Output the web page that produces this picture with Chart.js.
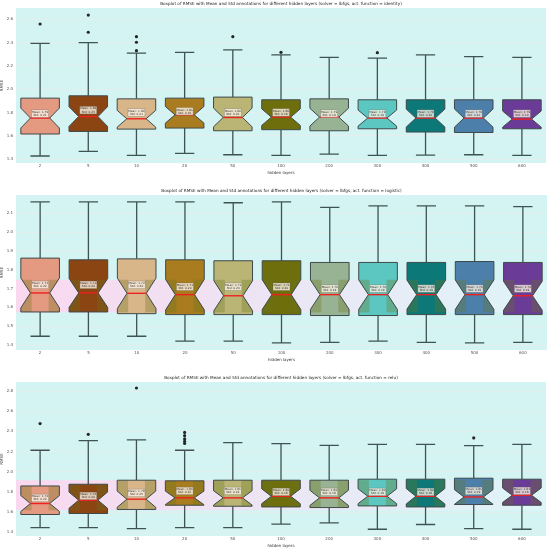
<!DOCTYPE html>
<html>
<head>
<meta charset="utf-8">
<script src="https://cdn.jsdelivr.net/npm/chart.js@4.4.0/dist/chart.umd.min.js"></script>
<style>
  body { margin: 0; background: #ffffff; }
  .panel { position: absolute; left: 0; width: 550px; }
</style>
</head>
<body>
<div class="panel" style="top:0px;height:177px"><canvas id="identityChart"></canvas></div>
<div class="panel" style="top:187px;height:177px"><canvas id="logisticChart"></canvas></div>
<div class="panel" style="top:374px;height:176px"><canvas id="reluChart"></canvas></div>
<script>
const hiddenLayers = ['2', '5', '10', '20', '50', '100', '200', '300', '400', '500', '600'];

// identity
const identityLow  = [1.426, 1.466, 1.431, 1.448, 1.437, 1.431, 1.443, 1.431, 1.434, 1.437, 1.431];
const identityQ1   = [1.615, 1.637, 1.657, 1.666, 1.643, 1.652, 1.643, 1.660, 1.632, 1.628, 1.660];
const identityMed  = [1.752, 1.765, 1.746, 1.780, 1.757, 1.760, 1.760, 1.752, 1.752, 1.752, 1.743];
const identityQ3   = [1.923, 1.943, 1.917, 1.923, 1.932, 1.909, 1.917, 1.909, 1.909, 1.909, 1.909];
const identityHigh = [2.394, 2.400, 2.309, 2.317, 2.337, 2.294, 2.274, 2.266, 2.294, 2.280, 2.274];
const identityMean = [1.79, 1.82, 1.80, 1.81, 1.80, 1.80, 1.79, 1.79, 1.79, 1.79, 1.79];
const identityStd  = [0.21, 0.23, 0.21, 0.19, 0.20, 0.19, 0.19, 0.19, 0.20, 0.20, 0.19];
const identityOutliers = [[2.56], [2.637, 2.489], [2.451, 2.403, 2.331], [], [2.451], [2.317], [], [2.314], [], [], []];
const identityTicks = [1.4, 1.6, 1.8, 2.0, 2.2, 2.4, 2.6];

// logistic
const logisticLow  = [1.447, 1.447, 1.447, 1.421, 1.421, 1.412, 1.415, 1.421, 1.415, 1.412, 1.415];
const logisticQ1   = [1.576, 1.576, 1.567, 1.562, 1.562, 1.562, 1.557, 1.557, 1.562, 1.562, 1.562];
const logisticMed  = [1.677, 1.677, 1.675, 1.668, 1.662, 1.668, 1.668, 1.668, 1.668, 1.668, 1.662];
const logisticQ3   = [1.862, 1.853, 1.858, 1.853, 1.848, 1.848, 1.839, 1.839, 1.839, 1.844, 1.839];
const logisticHigh = [2.161, 2.161, 2.161, 2.161, 2.156, 2.161, 2.132, 2.139, 2.139, 2.139, 2.136];
const logisticMean = [1.72, 1.72, 1.72, 1.71, 1.71, 1.71, 1.70, 1.70, 1.70, 1.70, 1.70];
const logisticStd  = [0.20, 0.20, 0.20, 0.20, 0.20, 0.20, 0.19, 0.19, 0.19, 0.19, 0.19];
const logisticOutliers = [[], [], [], [], [], [], [], [], [], [], []];
const logisticTicks = [1.4, 1.5, 1.6, 1.7, 1.8, 1.9, 2.0, 2.1];
const logisticBand = [1.574, 1.747];

// relu
const reluLow  = [1.447, 1.447, 1.437, 1.447, 1.447, 1.480, 1.493, 1.430, 1.477, 1.437, 1.430];
const reluQ1   = [1.576, 1.586, 1.626, 1.668, 1.658, 1.651, 1.645, 1.661, 1.651, 1.675, 1.668];
const reluMed  = [1.685, 1.718, 1.728, 1.741, 1.741, 1.757, 1.741, 1.757, 1.757, 1.750, 1.767];
const reluQ3   = [1.859, 1.876, 1.916, 1.910, 1.916, 1.916, 1.916, 1.926, 1.926, 1.936, 1.926];
const reluHigh = [2.213, 2.309, 2.315, 2.213, 2.289, 2.279, 2.262, 2.272, 2.272, 2.259, 2.272];
const reluMean = [1.74, 1.76, 1.79, 1.81, 1.81, 1.80, 1.80, 1.80, 1.80, 1.81, 1.81];
const reluStd  = [0.20, 0.20, 0.25, 0.22, 0.19, 0.18, 0.18, 0.19, 0.18, 0.19, 0.18];
const reluOutliers = [[2.477], [2.371], [2.83], [2.39, 2.357, 2.325, 2.30, 2.28], [], [], [], [], [], [2.335], []];
const reluTicks = [1.4, 1.6, 1.8, 2.0, 2.2, 2.4, 2.6, 2.8];
const reluBand = [1.618, 1.916];

const boxColors = ['#e39a80', '#8b4513', '#d9b68a', '#a97c1f', '#bab574', '#6e6e0c',
                   '#98b393', '#5cc6c1', '#0d7878', '#4d7fab', '#6a3b97'];
const N_RUNS = 32; // used for notch size

const boxPlugin = {
    id: 'boxes',
    beforeDraw(chart) {
        const a = chart.chartArea;
        chart.ctx.save();
        chart.ctx.fillStyle = '#d4f4f4';
        chart.ctx.fillRect(a.left, a.top, a.right - a.left, a.bottom - a.top);
        chart.ctx.restore();
    },
    beforeDatasetsDraw(chart) {
        const s = chart.options.plugins.boxes;
        const ctx = chart.ctx;
        const x = chart.scales.x, y = chart.scales.y;
        const a = chart.chartArea;
        const step = x.getPixelForValue(1) - x.getPixelForValue(0);
        const w = step * 0.8;
        ctx.save();

        // shaded band
        if (s.band) {
            const grad = ctx.createLinearGradient(a.left, 0, a.right, 0);
            grad.addColorStop(0, '#fad8ef');
            grad.addColorStop(0.5, '#ece6f4');
            grad.addColorStop(1, '#def5f8');
            const bt = y.getPixelForValue(s.band[1]), bb = y.getPixelForValue(s.band[0]);
            ctx.fillStyle = grad;
            ctx.fillRect(a.left, bt, a.right - a.left, bb - bt);
        }

        for (let i = 0; i < s.med.length; i++) {
            const cx = x.getPixelForValue(i);
            const L = cx - w / 2, R = cx + w / 2;
            const yq1 = y.getPixelForValue(s.q1[i]), yq3 = y.getPixelForValue(s.q3[i]);
            const ym = y.getPixelForValue(s.med[i]);
            const half = 1.57 * (s.q3[i] - s.q1[i]) / Math.sqrt(N_RUNS);
            const yn1 = y.getPixelForValue(s.med[i] - half), yn2 = y.getPixelForValue(s.med[i] + half);
            const ylo = y.getPixelForValue(s.low[i]), yhi = y.getPixelForValue(s.high[i]);

            // whiskers and caps
            ctx.strokeStyle = '#3e5353';
            ctx.lineWidth = 1.3;
            ctx.beginPath();
            ctx.moveTo(cx, yq1); ctx.lineTo(cx, ylo);
            ctx.moveTo(cx, yq3); ctx.lineTo(cx, yhi);
            ctx.moveTo(cx - w / 4, ylo); ctx.lineTo(cx + w / 4, ylo);
            ctx.moveTo(cx - w / 4, yhi); ctx.lineTo(cx + w / 4, yhi);
            ctx.stroke();

            // notched box
            const path = new Path2D();
            path.moveTo(L, yq1); path.lineTo(R, yq1); path.lineTo(R, yn1);
            path.lineTo(cx + w / 4, ym); path.lineTo(R, yn2); path.lineTo(R, yq3);
            path.lineTo(L, yq3); path.lineTo(L, yn2); path.lineTo(cx - w / 4, ym);
            path.lineTo(L, yn1); path.closePath();
            ctx.fillStyle = boxColors[i];
            ctx.fill(path);

            if (s.band) {
                ctx.save();
                ctx.clip(path);
                const bt = y.getPixelForValue(s.band[1]), bb = y.getPixelForValue(s.band[0]);
                ctx.fillStyle = 'rgba(105,118,30,0.32)';
                ctx.fillRect(L, bt, w * 0.28, bb - bt);
                ctx.fillRect(R - w * 0.28, bt, w * 0.28, bb - bt);
                ctx.restore();
            }

            ctx.strokeStyle = '#3e4a4a';
            ctx.lineWidth = 1;
            ctx.stroke(path);

            // median
            ctx.strokeStyle = '#ee2020';
            ctx.lineWidth = 1.4;
            ctx.beginPath();
            ctx.moveTo(cx - w / 4, ym); ctx.lineTo(cx + w / 4, ym);
            ctx.stroke();

            // mean / std annotation
            const ymean = y.getPixelForValue(s.mean[i]);
            ctx.fillStyle = 'rgba(250,240,226,0.8)';
            ctx.strokeStyle = 'rgba(80,80,80,0.5)';
            ctx.lineWidth = 0.5;
            ctx.fillRect(cx - 8.5, ymean - 3.8, 17, 7.6);
            ctx.strokeRect(cx - 8.5, ymean - 3.8, 17, 7.6);
            ctx.fillStyle = '#333';
            ctx.font = '2.9px "DejaVu Sans"';
            ctx.textAlign = 'center';
            ctx.textBaseline = 'middle';
            ctx.fillText('Mean: ' + s.mean[i].toFixed(2), cx, ymean - 1.5);
            ctx.fillText('Std: ' + s.std[i].toFixed(2), cx, ymean + 1.7);
        }
        ctx.restore();
    }
};

function makeChart(id, fn, stats, ticks, yMin, yMax) {
    const outlierPoints = [];
    stats.outliers.forEach((list, i) => {
        list.forEach(v => outlierPoints.push({ x: hiddenLayers[i], y: v }));
    });
    return new Chart(document.getElementById(id), {
        type: 'bar',
        data: {
            labels: hiddenLayers,
            datasets: [
                {
                    data: hiddenLayers.map((_, i) => [stats.low[i], stats.high[i]]),
                    backgroundColor: 'rgba(0,0,0,0)',
                    borderWidth: 0
                },
                {
                    type: 'scatter',
                    data: outlierPoints,
                    pointRadius: 1.6,
                    pointBackgroundColor: '#262626',
                    pointBorderWidth: 0
                }
            ]
        },
        options: {
            responsive: true,
            maintainAspectRatio: false,
            animation: false,
            layout: { padding: { left: 0, right: 3, top: 0, bottom: 0 } },
            plugins: {
                legend: { display: false },
                tooltip: { enabled: false },
                title: {
                    display: true,
                    fullSize: false,
                    text: 'Boxplot of RMSE with Mean and Std annotations for different hidden layers (solver = lbfgs, act. function = ' + fn + ')',
                    font: { family: 'DejaVu Sans', size: 4.2, weight: 'normal' },
                    color: '#222',
                    padding: { top: 1, bottom: 2 }
                },
                boxes: stats
            },
            scales: {
                x: {
                    type: 'category',
                    offset: true,
                    grid: { display: false, drawTicks: false },
                    border: { display: false },
                    ticks: { font: { family: 'DejaVu Sans', size: 4 }, color: '#555', padding: 1 },
                    title: {
                        display: true, text: 'hidden layers', color: '#333',
                        font: { family: 'DejaVu Sans', size: 4 }, padding: { top: 0, bottom: 2 }
                    },
                    afterFit(scale) { scale.height = 14; }
                },
                y: {
                    min: yMin,
                    max: yMax,
                    afterBuildTicks(scale) { scale.ticks = ticks.map(v => ({ value: v })); },
                    grid: { color: '#e4eeee', lineWidth: 1, drawTicks: false },
                    border: { display: false },
                    ticks: {
                        font: { family: 'DejaVu Sans', size: 4 }, color: '#555', padding: 3,
                        callback: v => v.toFixed(1)
                    },
                    title: {
                        display: true, text: 'RMSE', color: '#333',
                        font: { family: 'DejaVu Sans', size: 4 }, padding: 0
                    },
                    afterFit(scale) { scale.width = 16; }
                }
            }
        },
        plugins: [boxPlugin]
    });
}

makeChart('identityChart', 'identity', {
    low: identityLow, q1: identityQ1, med: identityMed, q3: identityQ3, high: identityHigh,
    mean: identityMean, std: identityStd, outliers: identityOutliers, band: null
}, identityTicks, 1.366, 2.697);

makeChart('logisticChart', 'logistic', {
    low: logisticLow, q1: logisticQ1, med: logisticMed, q3: logisticQ3, high: logisticHigh,
    mean: logisticMean, std: logisticStd, outliers: logisticOutliers, band: logisticBand
}, logisticTicks, 1.374, 2.197);

makeChart('reluChart', 'relu', {
    low: reluLow, q1: reluQ1, med: reluMed, q3: reluQ3, high: reluHigh,
    mean: reluMean, std: reluStd, outliers: reluOutliers, band: reluBand
}, reluTicks, 1.363, 2.889);
</script>
</body>
</html>
